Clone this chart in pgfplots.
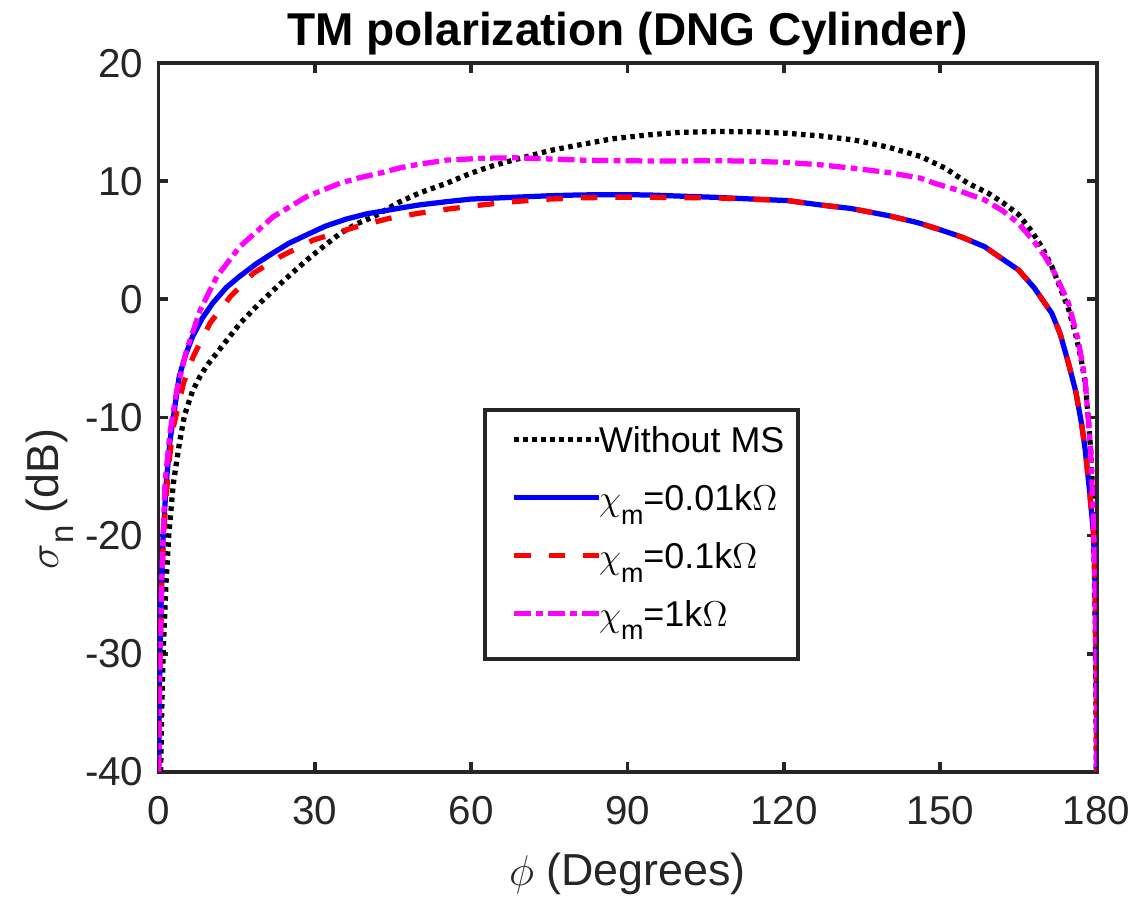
\documentclass[border=0pt]{standalone}
\usepackage{fontspec}
\setmainfont{Liberation Sans}
\usepackage{pgfplots}
\pgfplotsset{compat=1.18}
\definecolor{axgray}{rgb}{0.15,0.15,0.15}
\definecolor{mymag}{rgb}{1,0,1}
\newcommand{\chim}{$\chi$\raisebox{-4.5bp}{\fontsize{9}{9}\selectfont m}}
\begin{document}
\begin{tikzpicture}
\begin{axis}[
  at={(0,0)}, anchor=south west,
  scale only axis, width=312.7bp, height=236.1bp,
  xmin=0, xmax=180, ymin=-40, ymax=20,
  xtick={0,30,...,180}, ytick={-40,-30,...,20},
  tick align=inside, major tick length=3.3bp,
  axis line style={axgray, line width=1.3bp},
  every tick/.style={axgray, line width=1.3bp},
  tick label style={font=\fontsize{13.5}{16}\selectfont, color=axgray},
  /pgf/number format/assume math mode=true,
  xticklabel style={yshift=-4.8bp},
  yticklabel style={xshift=-1.5bp},
  title={TM polarization (DNG Cylinder)},
  every axis title/.style={at={(0.5,1)}, anchor=base, yshift=6bp, inner sep=0pt,
     font=\fontsize{15.4}{18}\selectfont\bfseries},
  xlabel={$\phi$ (Degrees)},
  every axis x label/.style={at={(0.5,0)}, anchor=base, yshift=-37.8bp, inner sep=0pt,
     font=\fontsize{15}{18}\selectfont, color=axgray},
  ylabel={$\sigma$\raisebox{-5bp}{\fontsize{11}{11}\selectfont n} (dB)},
  every axis y label/.style={at={(axis description cs:-0.107,0.385)}, rotate=90, anchor=base, inner sep=0pt,
     font=\fontsize{15}{18}\selectfont, color=axgray},
  legend style={at={(axis cs:62.2,-9.19)}, anchor=north west, draw=axgray, line width=1.3bp,
     fill=white, font=\fontsize{12}{14}\selectfont, inner xsep=0pt, inner ysep=3bp,
     row sep=0pt, nodes={inner xsep=0.6bp, inner ysep=0pt, text height=11.3bp, text depth=8bp},
     cells={anchor=base west},
     /tikz/every odd column/.append style={column sep=-1.5bp}},
  legend image code/.code={\path (0bp,0bp); \draw[#1,line width=1.75bp] (9bp,4.3bp) -- (37.3bp,4.3bp);},
]
\addplot[black, line width=1.75bp, dash pattern=on 1.5bp off 1.5bp] coordinates {
(0.42,-40) (0.6,-35.3) (0.92,-29.7) (1.45,-24.0) (2.0,-19.8) (2.85,-15.6) (4.0,-12.2) (5.0,-9.8)
(6.5,-7.8) (8,-6.5) (9.3,-5.6) (12.5,-3.8) (15.7,-2.0) (19,-0.5) (22.1,0.8) (25.3,2.1) (28.5,3.35)
(31.7,4.5) (34.9,5.6) (38,6.4) (41.3,7.0) (42.5,7.3) (46,8.2) (50,9.0) (55.3,9.84) (60,10.7)
(64,11.3) (68.1,11.8) (75,12.6) (80.9,13.1) (87,13.6) (93.8,13.93) (100,14.15) (107,14.22)
(114,14.2) (120.7,14.07) (127,13.85) (133.5,13.5) (140,12.9) (146.3,12.1) (151,11.1) (155.3,9.84)
(159.2,9.0) (162,8.2) (165,7.2) (167.5,5.8) (169.4,4.5) (171.4,2.8) (173,1.0) (174.6,-0.8)
(176,-3) (177,-5) (177.8,-7) (178.4,-10) (178.9,-13) (179.3,-17) (179.55,-22) (179.75,-28)
(179.88,-34) (179.95,-40)
};
\addlegendentry{Without MS\hspace*{4bp}}
\addplot[blue, line width=1.75bp] coordinates {
(0.05,-40) (0.12,-35) (0.29,-29.7) (0.6,-24) (0.92,-19.8) (1.5,-15.5) (2.2,-12) (3.98,-6.54)
(5.2,-4.7) (6.54,-3.15) (8.4,-1.6) (10.4,-0.32) (13,1.0) (15.5,1.93) (18.7,3.0) (21.9,3.91)
(25,4.75) (28.4,5.46) (32,6.2) (36,6.8) (40,7.25) (42.5,7.44) (46.5,7.75) (50,8.0) (55.3,8.28)
(60,8.5) (68.1,8.65) (75,8.78) (80.9,8.85) (87,8.87) (93.8,8.85) (100,8.75) (106.6,8.65)
(113,8.52) (120.7,8.37) (127,8.0) (132.9,7.7) (140,7.1) (145.7,6.5) (150,5.9) (154,5.3)
(158.5,4.47) (162,3.4) (165,2.5) (168,1.0) (171.4,-1.17) (173,-2.9) (174.6,-5.4) (176,-7.8)
(177.1,-10.5) (177.8,-12.7) (178.6,-16) (179.4,-19.8) (179.7,-24) (179.9,-29.7) (179.97,-35) (180,-40)
};
\addlegendentry{\chim=0.01k$\Omega$}
\addplot[red, line width=1.75bp, dash pattern=on 5.5bp off 6bp] coordinates {
(0.05,-40) (0.15,-35) (0.32,-29.7) (0.65,-24) (1.0,-19.8) (1.9,-14.2) (2.85,-10.8) (4.8,-7.1)
(6.7,-4.8) (9.9,-2.0) (13.8,0.24) (18.2,2.22) (23.4,3.63) (29.8,5.04) (38.1,6.17) (44.3,6.87)
(50,7.3) (55.3,7.64) (62,8.0) (68.1,8.28) (75,8.5) (80.9,8.6) (87,8.65) (93.8,8.65) (100,8.62)
(106.6,8.6) (113,8.5) (120.7,8.37) (127,8.0) (132.9,7.7) (140,7.1) (145.7,6.5) (150,5.9) (154,5.3)
(158.5,4.47) (162,3.4) (165,2.5) (168,1.0) (171.4,-1.17) (173,-2.9) (174.6,-5.4) (176,-7.8)
(177.1,-10.5) (177.8,-12.7) (178.6,-16) (179.4,-19.8) (179.7,-24) (179.9,-29.7) (179.97,-35) (180,-40)
};
\addlegendentry{\chim=0.1k$\Omega$}
\addplot[mymag, line width=1.75bp, dash pattern=on 5.5bp off 1.8bp on 2.2bp off 1.8bp] coordinates {
(0.05,-40) (0.13,-35) (0.29,-29.7) (0.6,-24) (0.92,-19.8) (1.25,-15.5) (2.2,-11.3) (3.5,-7.7)
(5.4,-4.3) (8.0,-0.9) (11.2,1.93) (15.6,4.47) (22.0,7.0) (28.4,8.7) (34.8,9.84) (38.5,10.3)
(42.5,10.7) (46.4,11.15) (50,11.45) (55.3,11.8) (62,11.95) (68.1,12.0) (75,11.9) (80.9,11.8)
(87,11.75) (93.8,11.73) (100,11.73) (107.9,11.75) (114,11.7) (120.7,11.6) (127,11.4) (133.5,11.1)
(140,10.75) (146.3,10.26) (148.9,9.84) (153,9.3) (158.5,8.43) (162,7.5) (165,6.45) (168,4.9)
(170,3.7) (172,2.2) (174.6,-0.3) (176.5,-3.5) (177.8,-6.8) (178.4,-10.2) (178.9,-13) (179.4,-19)
(179.7,-24) (179.9,-30) (179.97,-35) (180,-40)
};
\addlegendentry{\chim=1k$\Omega$}
\end{axis}
\pgfresetboundingbox
\path (-52.83bp,-43.77bp) rectangle (325.5bp,257.2bp);
\end{tikzpicture}
\end{document}
